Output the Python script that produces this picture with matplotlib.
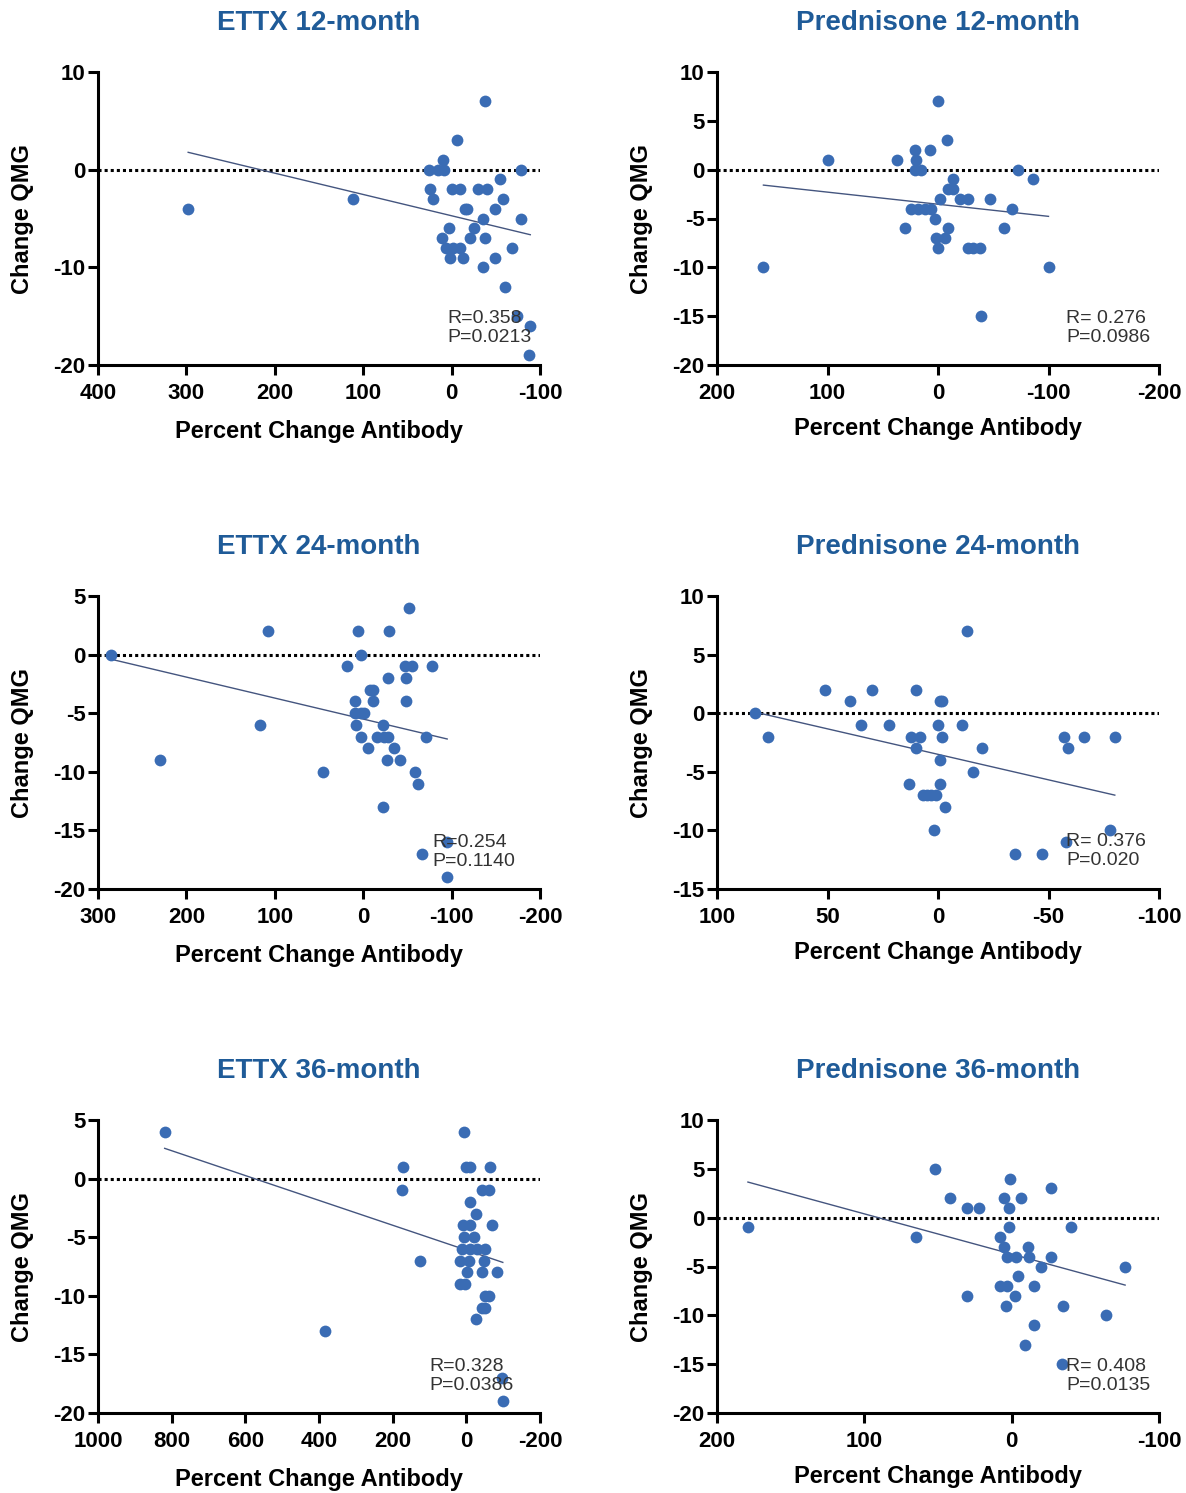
import matplotlib
matplotlib.use('Agg')
import matplotlib.pyplot as plt
import numpy as np

plt.rcParams['font.family'] = ['Liberation Sans', 'DejaVu Sans']
plt.rcParams['axes.unicode_minus'] = False

# ---- data ----
ettx12_x = [-38, -6, 10, 26, 15, 9, -78, -55, 25, 0, -9, -30, -40, 21, -58, 111, 298, -15, -17, -49,
            -36, -79, 3, -25, 11, -21, -38, 6, -2, -9, -68, 2, -13, -49, -36, -60, -89, -74, -87]
ettx12_y = [7, 3, 1, 0, 0, 0, 0, -1, -2, -2, -2, -2, -2, -3, -3, -3, -4, -4, -4, -4,
            -5, -5, -6, -6, -7, -7, -7, -8, -8, -8, -8, -9, -9, -9, -10, -12, -16, -15, -19]

pred12_x = [0, -8, 100, 37, 21, 7, 20, 21, 15, -72, -86, -14, -9, -14, -2, -20, -27, -47,
            24, 18, 12, 6, -67, 3, 30, -9, -60, 2, -6, 0, -27, -32, -38, 158, -100, -39]
pred12_y = [7, 3, 1, 1, 2, 2, 1, 0, 0, 0, -1, -1, -2, -2, -3, -3, -3, -3,
            -4, -4, -4, -4, -4, -5, -6, -6, -6, -7, -7, -8, -8, -8, -8, -10, -10, -15]

ettx24_x = [285, -52, 108, 6, -29, 2, 18, -47, -55, -78, -28, -48, -8, -11, 9, -11, -48,
            9, 3, -1, 117, 8, -22, 2, -16, -23, -28, -71, -5, -35, 230, -27, -42, 46, -59,
            -62, -22, -95, -67, -95]
ettx24_y = [0, 4, 2, 2, 2, 0, -1, -1, -1, -1, -2, -2, -3, -3, -4, -4, -4,
            -5, -5, -5, -6, -6, -6, -7, -7, -7, -7, -7, -8, -8, -9, -9, -9, -10, -10,
            -11, -13, -16, -17, -19]

pred24_x = [83, 77, -13, 51, 30, 10, 40, -1, -2, 35, 22, 0, -11, 12, 8, -2, -57, -66, -80,
            10, -20, -59, -1, -16, 13, -1, 7, 5, 3, 1, -3, 2, -78, -58, -35, -47]
pred24_y = [0, -2, 7, 2, 2, 2, 1, 1, 1, -1, -1, -1, -1, -2, -2, -2, -2, -2, -2,
            -3, -3, -3, -4, -5, -6, -6, -7, -7, -7, -7, -8, -10, -10, -11, -12, -12]

ettx36_x = [819, 5, 173, 1, -11, -63, 175, -43, -61, -11, -27, 9, -11, -70, 7, -20,
            12, -10, -29, -52, 125, 16, -6, -47, -2, -43, -82, 16, 3, -52, -61, -43, -52,
            -26, 384, -97, -99]
ettx36_y = [4, 4, 1, 1, 1, 1, -1, -1, -1, -2, -3, -4, -4, -4, -5, -5,
            -6, -6, -6, -6, -7, -7, -7, -7, -8, -8, -8, -9, -9, -10, -10, -11, -11,
            -12, -13, -17, -19]

pred36_x = [179, 52, 1, -27, 42, 5, -6, 30, 22, 2, 2, -40, 65, 8, 5, -11, 3, -3, -12, -27,
            -20, -77, -4, 8, 3, -15, 30, -2, 4, -35, -64, -15, -9, -34]
pred36_y = [-1, 5, 4, 3, 2, 2, 2, 1, 1, 1, -1, -1, -2, -2, -3, -3, -4, -4, -4, -4,
            -5, -5, -6, -7, -7, -7, -8, -8, -9, -9, -10, -11, -13, -15]

# regression lines (slope, intercept)
fit_params = [(0.0218, -4.72), (0.0124, -3.54), (0.0179, -5.5),
              (0.0435, -3.51), (0.0106, -6.1), (0.0412, -3.73)]

titles = ['ETTX 12-month', 'Prednisone 12-month', 'ETTX 24-month',
          'Prednisone 24-month', 'ETTX 36-month', 'Prednisone 36-month']
stats = ['R=0.358\nP=0.0213', 'R= 0.276\nP=0.0986', 'R=0.254\nP=0.1140',
         'R= 0.376\nP=0.020', 'R=0.328\nP=0.0386', 'R= 0.408\nP=0.0135']
xticks = [[400, 300, 200, 100, 0, -100], [200, 100, 0, -100, -200], [300, 200, 100, 0, -100, -200],
          [100, 50, 0, -50, -100], [1000, 800, 600, 400, 200, 0, -200], [200, 100, 0, -100]]
yticks = [[-20, -10, 0, 10], [-20, -15, -10, -5, 0, 5, 10], [-20, -15, -10, -5, 0, 5],
          [-15, -10, -5, 0, 5, 10], [-20, -15, -10, -5, 0, 5], [-20, -15, -10, -5, 0, 5, 10]]

xs = [ettx12_x, pred12_x, ettx24_x, pred24_x, ettx36_x, pred36_x]
ys = [ettx12_y, pred12_y, ettx24_y, pred24_y, ettx36_y, pred36_y]

# ---- layout ----
W, H = 1186, 1493
fig = plt.figure(figsize=(W / 100, H / 100), dpi=100)
lefts = [98, 717]
tops = [72, 596, 1120]
axw, axh = 442, 293
stat_pos = [(0.79, 0.126), (0.79, 0.126), (0.757, 0.125), (0.79, 0.13), (0.75, 0.126), (0.79, 0.127)]

dot_color = '#3a6cb4'
title_color = '#1f5b98'

for i in range(6):
    row, col = divmod(i, 2)
    ax = fig.add_axes([lefts[col] / W, 1 - (tops[row] + axh) / H, axw / W, axh / H])

    ax.scatter(xs[i], ys[i], s=72, color=dot_color, zorder=3, linewidths=0)

    slope, icpt = fit_params[i]
    xl = np.array([min(xs[i]), max(xs[i])])
    ax.plot(xl, slope * xl + icpt, color='#44557f', lw=1.0, zorder=2)

    ax.axhline(0, color='black', ls=(0, (1, 1)), lw=2.2, zorder=1)

    ax.set_xlim(xticks[i][0], xticks[i][-1])
    ax.set_ylim(yticks[i][0], yticks[i][-1])
    ax.set_xticks(xticks[i])
    ax.set_yticks(yticks[i])

    for s in ['top', 'right']:
        ax.spines[s].set_visible(False)
    for s in ['left', 'bottom']:
        ax.spines[s].set_linewidth(2.2)
    ax.tick_params(direction='out', length=7, width=2.2, labelsize=16)
    ax.tick_params(axis='x', pad=6)
    ax.tick_params(axis='y', pad=2)
    for lab in ax.get_xticklabels() + ax.get_yticklabels():
        lab.set_fontweight('bold')

    ax.set_title(titles[i], fontsize=20, fontweight='bold', color=title_color, pad=30)
    ax.set_xlabel('Percent Change Antibody', fontsize=17, fontweight='bold')
    ax.set_ylabel('Change QMG', fontsize=17, fontweight='bold')
    ax.xaxis.set_label_coords(0.5, -0.188 if col == 0 else -0.176)
    ax.yaxis.set_label_coords(-0.145, 0.5)

    ax.text(stat_pos[i][0], stat_pos[i][1], stats[i], transform=ax.transAxes,
            fontsize=14, color='#333333', va='center', ha='left', linespacing=1.15, zorder=4)

plt.savefig('out.png', dpi=100)
